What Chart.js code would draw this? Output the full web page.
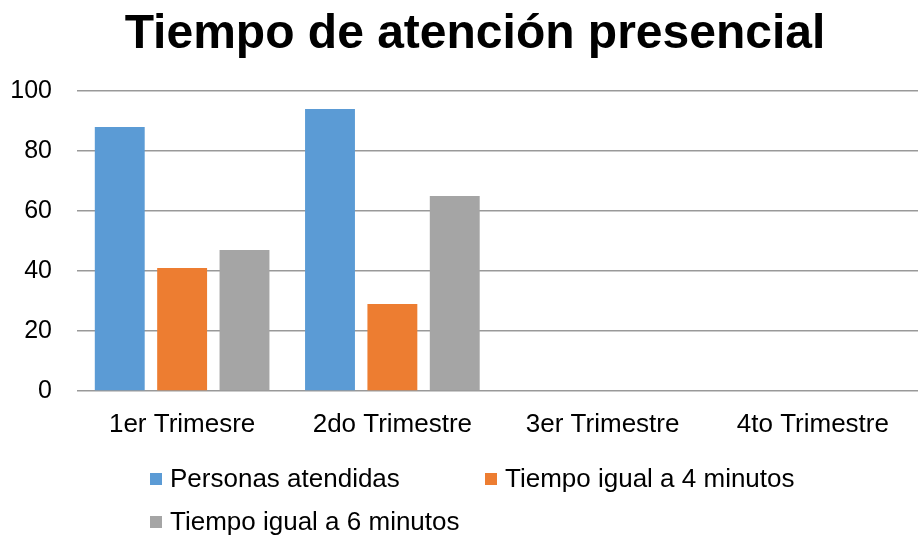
<!DOCTYPE html>
<html>
<head>
<meta charset="utf-8">
<script src="https://cdn.jsdelivr.net/npm/chart.js@4.4.1/dist/chart.umd.min.js"></script>
<style>
  html, body { margin: 0; padding: 0; background: #fff; }
  #wrap { width: 918px; height: 537px; }
</style>
</head>
<body>
<div id="wrap"><canvas id="atencionChart" width="918" height="537"></canvas></div>
<script>
const chartTitle = "Tiempo de atención presencial";
const categories = ["1er Trimesre", "2do Trimestre", "3er Trimestre", "4to Trimestre"];
const personasAtendidas = [88, 94, null, null];
const tiempo4min = [41, 29, null, null];
const tiempo6min = [47, 65, null, null];
const yTicks = [0, 20, 40, 60, 80, 100];

const FONT = "'Liberation Sans', Arial, sans-serif";

// title + legend drawn by hand: the original title is a bit right of centre
// and the legend rows all start at the same left edge
const titleAndLegend = {
    id: "titleAndLegend",
    afterDraw(chart) {
        const ctx = chart.ctx;
        ctx.save();
        ctx.fillStyle = "#000";
        ctx.font = "bold 48px " + FONT;
        ctx.textAlign = "center";
        ctx.textBaseline = "alphabetic";
        ctx.fillText(chartTitle, 475, 48);

        const spots = [[150, 479], [485, 479], [150, 522]];
        ctx.font = "26px " + FONT;
        ctx.textBaseline = "middle";
        ctx.textAlign = "left";
        chart.data.datasets.forEach((ds, i) => {
            const [x, y] = spots[i];
            ctx.fillStyle = ds.backgroundColor;
            ctx.fillRect(x, y - 6, 12, 12);
            ctx.fillStyle = "#000";
            ctx.fillText(ds.label, x + 20, y + 1);
        });
        ctx.restore();
    }
};

const ctx = document.getElementById("atencionChart").getContext("2d");
new Chart(ctx, {
    type: "bar",
    data: {
        labels: categories,
        datasets: [
            { label: "Personas atendidas", data: personasAtendidas, backgroundColor: "#5B9BD5" },
            { label: "Tiempo igual a 4 minutos", data: tiempo4min, backgroundColor: "#ED7D31" },
            { label: "Tiempo igual a 6 minutos", data: tiempo6min, backgroundColor: "#A5A5A5" },
        ],
    },
    options: {
        responsive: false,
        animation: false,
        layout: { padding: { left: 8, right: 0, top: 91, bottom: 100 } },
        datasets: { bar: { categoryPercentage: 0.89, barPercentage: 0.8 } },
        plugins: {
            legend: { display: false },
            title: { display: false },
            tooltip: { enabled: false },
        },
        scales: {
            x: {
                grid: { display: false, drawTicks: false },
                border: { display: false },
                ticks: { color: "#000", font: { family: FONT, size: 26 }, padding: 18, maxRotation: 0 },
                afterFit(scale) { scale.height = 46; },
            },
            y: {
                min: 0,
                max: 100,
                afterBuildTicks(scale) { scale.ticks = yTicks.map(v => ({ value: v })); },
                grid: { color: "#999999", lineWidth: 1.5, drawTicks: false },
                border: { display: false },
                ticks: { color: "#000", font: { family: FONT, size: 25 }, padding: 25 },
                afterFit(scale) { scale.width = 69; },
            },
        },
    },
    plugins: [titleAndLegend],
});
</script>
</body>
</html>
